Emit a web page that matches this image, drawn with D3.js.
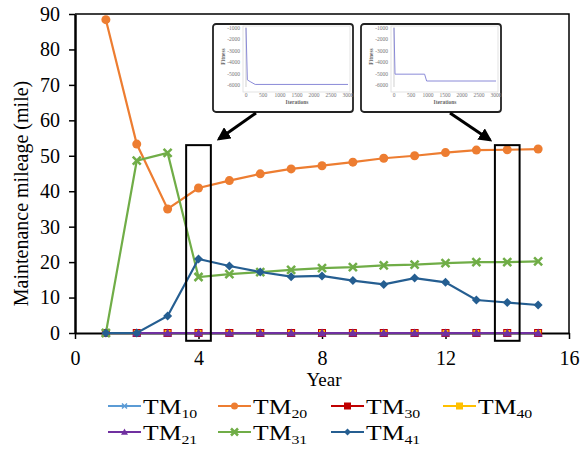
<!DOCTYPE html>
<html>
<head>
<meta charset="utf-8">
<script src="https://cdn.jsdelivr.net/npm/d3@7"></script>
<style>
body { margin: 0; background: #fff; }
svg { display: block; font-family: "Liberation Serif", "Times New Roman", serif; }
</style>
</head>
<body>
<div id="chart"></div>
<script>
// ---- data ----
var years = [1,2,3,4,5,6,7,8,9,10,11,12,13,14,15];
var tm10 = [0,0,0,0,0,0,0,0,0,0,0,0,0,0,0];
var tm20 = [88.4,53.3,35.0,40.9,43.0,44.9,46.3,47.2,48.2,49.3,50.0,50.9,51.6,51.7,51.9];
var tm30 = [0,0,0,0,0,0,0,0,0,0,0,0,0,0,0];
var tm40 = [0,0,0,0,0,0,0,0,0,0,0,0,0,0,0];
var tm21 = [0,0,0,0,0,0,0,0,0,0,0,0,0,0,0];
var tm31 = [0,48.6,50.8,15.8,16.6,17.2,17.8,18.3,18.6,19.1,19.3,19.7,20.0,20.0,20.2];
var tm41 = [0,0,4.8,20.9,18.9,17.2,15.9,16.1,14.8,13.7,15.5,14.3,9.3,8.6,7.9];

var yTicks = [0,10,20,30,40,50,60,70,80,90];
var xTicks = [0,4,8,12,16];
var highlightYears = [4,14];

// small convergence plots (iterations, fitness)
var insetTicksY = [-1000,-2000,-3000,-4000,-5000,-6000];
var insetTicksX = [0,500,1000,1500,2000,2500,3000];
var insetLeftData = [[0,-1000],[40,-5550],[120,-5700],[270,-5950],[3000,-5950]];
var insetRightData = [[0,-1000],[30,-5050],[900,-5050],[960,-5650],[3000,-5650]];

var series = [
	{ name: "10", values: tm10, color: "#5b9bd5", marker: "x", size: 5 },
	{ name: "20", values: tm20, color: "#ed7d31", marker: "circle", size: 9 },
	{ name: "30", values: tm30, color: "#c00000", marker: "square", size: 8 },
	{ name: "40", values: tm40, color: "#ffc000", marker: "square", size: 6 },
	{ name: "21", values: tm21, color: "#7030a0", marker: "triangle", size: 9 },
	{ name: "31", values: tm31, color: "#70ad47", marker: "x", size: 8 },
	{ name: "41", values: tm41, color: "#255e91", marker: "diamond", size: 9 }
];

var W = 586, H = 449;
var margin = { left: 75, right: 17, top: 14, bottom: 116 };
var width = W - margin.left - margin.right;
var height = H - margin.top - margin.bottom;

var svg = d3.select("#chart").append("svg")
		.attr("width", W)
		.attr("height", H);

var xscale = d3.scaleLinear().domain([0,16]).range([margin.left, margin.left + width]);
var yscale = d3.scaleLinear().domain([0,90]).range([margin.top + height, margin.top]);

// frame (top + right)
svg.append("path")
	.attr("d", "M" + xscale(0) + "," + yscale(90) + "H" + xscale(16) + "V" + yscale(0))
	.attr("fill", "none")
	.attr("stroke", "#000")
	.attr("stroke-width", 1.5);

// axes
var yAxis = svg.append("g")
	.attr("transform", "translate(" + margin.left + ",0)")
	.call(d3.axisLeft(yscale).tickValues(yTicks).tickSize(6).tickSizeOuter(0).tickPadding(9));
var xAxis = svg.append("g")
	.attr("transform", "translate(0," + yscale(0) + ")")
	.call(d3.axisBottom(xscale).tickValues(xTicks).tickSize(6).tickSizeOuter(0).tickPadding(12));

yAxis.select(".domain").attr("stroke-width", 2.5);
xAxis.select(".domain").attr("stroke-width", 2);
svg.selectAll(".tick line").attr("stroke-width", 1.5);
svg.selectAll(".tick text")
	.attr("font-family", "Liberation Serif, serif")
	.attr("font-size", 20)
	.attr("fill", "#000");

svg.append("text")
	.attr("transform", "translate(28," + (yscale(45) + 20) + ") rotate(-90)")
	.attr("text-anchor", "middle")
	.attr("font-size", 20)
	.text("Maintenance mileage (mile)");

svg.append("text")
	.attr("x", xscale(8) + 2)
	.attr("y", 386)
	.attr("text-anchor", "middle")
	.attr("font-size", 19)
	.text("Year");

// markers
function drawMarker(g, type, size, color){
	var s = size / 2;
	if (type == "circle") {
		g.append("circle").attr("r", s).attr("fill", color);
	} else if (type == "square") {
		g.append("rect").attr("x", -s).attr("y", -s).attr("width", size).attr("height", size).attr("fill", color);
	} else if (type == "triangle") {
		g.append("path").attr("d", "M0," + (-s) + "L" + s + "," + (s*0.8) + "L" + (-s) + "," + (s*0.8) + "Z").attr("fill", color);
	} else if (type == "diamond") {
		g.append("path").attr("d", "M0," + (-s) + "L" + s + ",0L0," + s + "L" + (-s) + ",0Z").attr("fill", color);
	} else if (type == "x") {
		g.append("path").attr("d", "M" + (-s) + "," + (-s) + "L" + s + "," + s + "M" + s + "," + (-s) + "L" + (-s) + "," + s)
			.attr("stroke", color).attr("stroke-width", size > 6 ? 2.5 : 1.5);
	}
}

var line = d3.line()
	.x(function(d,i){ return xscale(years[i]); })
	.y(function(d){ return yscale(d); });

series.forEach(function(s){
	var g = svg.append("g").attr("class", "series");
	g.append("path")
		.attr("d", line(s.values))
		.attr("fill", "none")
		.attr("stroke", s.color)
		.attr("stroke-width", 2.2);
	s.values.forEach(function(v,i){
		var m = g.append("g").attr("transform", "translate(" + xscale(years[i]) + "," + yscale(v) + ")");
		drawMarker(m, s.marker, s.size, s.color);
	});
});

// highlight boxes
highlightYears.forEach(function(yr){
	svg.append("rect")
		.attr("x", xscale(yr - 0.4))
		.attr("y", yscale(53))
		.attr("width", xscale(yr + 0.4) - xscale(yr - 0.4))
		.attr("height", yscale(-2.2) - yscale(53))
		.attr("fill", "none")
		.attr("stroke", "#000")
		.attr("stroke-width", 2);
});

// inset convergence plots
function drawInset(x0, y0, data){
	var g = svg.append("g").attr("transform", "translate(" + x0 + "," + y0 + ")");
	g.append("rect")
		.attr("x", 0).attr("y", 0).attr("width", 140).attr("height", 88)
		.attr("rx", 3)
		.attr("fill", "#fff").attr("stroke", "#222").attr("stroke-width", 1.8);
	var ix = d3.scaleLinear().domain([0,3000]).range([33, 135]);
	var iy = d3.scaleLinear().domain([-6000,-1000]).range([61, 4]);
	g.append("rect")
		.attr("x", 30).attr("y", 2).attr("width", 107).attr("height", 66)
		.attr("fill", "none").attr("stroke", "#ddd").attr("stroke-width", 0.8);
	g.append("line").attr("x1", ix(0)).attr("x2", ix(0)).attr("y1", 3).attr("y2", 63)
		.attr("stroke", "#bbb").attr("stroke-width", 0.7);
	g.selectAll(".ity").data(insetTicksY).enter().append("text")
		.attr("x", 27).attr("y", function(d){ return iy(d) + 2; })
		.attr("text-anchor", "end")
		.attr("font-size", 5.5).attr("fill", "#777")
		.text(function(d){ return d; });
	g.selectAll(".itx").data(insetTicksX).enter().append("text")
		.attr("x", function(d){ return ix(d); }).attr("y", 73)
		.attr("text-anchor", "middle")
		.attr("font-size", 5.5).attr("fill", "#777")
		.text(function(d){ return d; });
	g.append("text").attr("x", ix(1500)).attr("y", 80)
		.attr("text-anchor", "middle").attr("font-size", 5.5).attr("font-weight", "bold").attr("fill", "#666")
		.text("Iterations");
	g.append("text").attr("transform", "translate(12," + iy(-3500) + ") rotate(-90)")
		.attr("text-anchor", "middle").attr("font-size", 5.5).attr("font-weight", "bold").attr("fill", "#666")
		.text("Fitness");
	g.append("path")
		.attr("d", d3.line().x(function(d){ return ix(d[0]); }).y(function(d){ return iy(d[1]); })(data))
		.attr("fill", "none").attr("stroke", "#8a8ad8").attr("stroke-width", 1);
}
drawInset(213, 24, insetLeftData);
drawInset(361, 24, insetRightData);

// arrows
svg.append("defs").append("marker")
	.attr("id", "arrow")
	.attr("viewBox", "0 0 10 10")
	.attr("refX", 8).attr("refY", 5)
	.attr("markerWidth", 4.5).attr("markerHeight", 4.5)
	.attr("orient", "auto")
	.append("path").attr("d", "M0,0L10,5L0,10Z").attr("fill", "#000");

[[256,113,219,139],[450,113,490,140]].forEach(function(a){
	svg.append("line")
		.attr("x1", a[0]).attr("y1", a[1]).attr("x2", a[2]).attr("y2", a[3])
		.attr("stroke", "#000").attr("stroke-width", 3)
		.attr("marker-end", "url(#arrow)");
});

// legend
var legendPos = [[108,414],[218,414],[331,414],[443,414],[108,440],[218,440],[331,440]];
series.forEach(function(s,i){
	var p = legendPos[i];
	var g = svg.append("g");
	g.append("line")
		.attr("x1", p[0]).attr("x2", p[0] + 33)
		.attr("y1", p[1] - 8).attr("y2", p[1] - 8)
		.attr("stroke", s.color).attr("stroke-width", 2.2);
	var m = g.append("g").attr("transform", "translate(" + (p[0] + 16.5) + "," + (p[1] - 8) + ")");
	drawMarker(m, s.marker, s.marker == "x" && s.size < 6 ? 5 : 7, s.color);
	var t = g.append("g").attr("transform", "translate(" + (p[0] + 35) + "," + p[1] + ") scale(1.22,1)")
		.append("text")
		.attr("font-size", 21);
	t.append("tspan").text("TM");
	t.append("tspan").attr("font-size", 13).attr("dy", 4).text(s.name);
});
</script>
</body>
</html>
